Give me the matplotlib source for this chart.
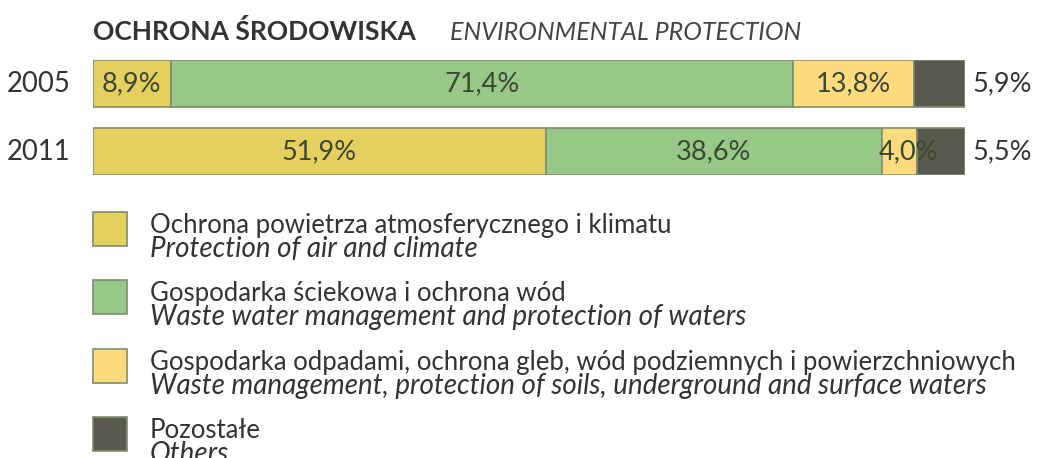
import matplotlib
matplotlib.use("Agg")
import matplotlib.pyplot as plt
from matplotlib.patches import Rectangle

plt.rcParams['font.family'] = ['Lato', 'DejaVu Sans']

years = ["2005", "2011"]
air = [8.9, 51.9]
water = [71.4, 38.6]
waste = [13.8, 4.0]
others = [5.9, 5.5]

series = [air, water, waste, others]
colors = ["#E3D05F", "#98C888", "#FEDC7D", "#595A4E"]
edge = "#7E8E70"
pl_names = ["Ochrona powietrza atmosferycznego i klimatu",
            "Gospodarka ściekowa i ochrona wód",
            "Gospodarka odpadami, ochrona gleb, wód podziemnych i powierzchniowych",
            "Pozostałe"]
en_names = ["Protection of air and climate",
            "Waste water management and protection of waters",
            "Waste management, protection of soils, underground and surface waters",
            "Others"]

W, H = 1037, 458
fig = plt.figure(figsize=(W / 100, H / 100), dpi=100)

def fx(px):
    return px / W

def fy(py):
    return 1 - py / H

# bar axes: pixels x 93..965, y 60..175
ax = fig.add_axes([fx(93), fy(175), fx(965 - 93), (175 - 60) / H])
h = 47 / 68
ypos = list(range(len(years)))
left = [0.0] * len(years)
txtcol = "#3B4733"
fs_bar = 19.5
for si, vals in enumerate(series):
    ax.barh(ypos, vals, left=left, height=h, color=colors[si],
            edgecolor=edge, linewidth=1.2)
    for i, v in enumerate(vals):
        label = f"{v:.1f}%".replace(".", ",")
        if si == 3:
            ax.text(100 + 0.8, ypos[i], label, ha="left", va="center",
                    fontsize=fs_bar, color="#333333", clip_on=False)
        elif v < 6:
            ax.text(left[i] - 0.4, ypos[i], label, ha="left", va="center",
                    fontsize=fs_bar, color=txtcol, clip_on=False)
        else:
            ax.text(left[i] + v / 2, ypos[i], label, ha="center", va="center",
                    fontsize=fs_bar, color=txtcol)
    left = [l + v for l, v in zip(left, vals)]

ax.set_xlim(0, 100)
ax.set_ylim(len(years) - 1 + h / 2, -h / 2)
ax.axis("off")
for i, y in enumerate(years):
    ax.text(-2.6, ypos[i], y, ha="right", va="center", fontsize=19.8,
            color="#333333", clip_on=False)

# title
fig.text(fx(93), fy(40), "OCHRONA ŚRODOWISKA", fontsize=19, fontweight="bold",
         color="#333333", ha="left", va="baseline")
fig.text(fx(450), fy(40), "ENVIRONMENTAL PROTECTION", fontsize=18,
         fontstyle="italic", color="#444444", ha="left", va="baseline")

# legend
for k in range(4):
    top = 212 + k * 68.4
    fig.add_artist(Rectangle((fx(93), fy(top + 34)), fx(34), 34 / H,
                             transform=fig.transFigure, facecolor=colors[k],
                             edgecolor=edge, linewidth=1.2))
    fig.text(fx(150), fy(top + 21), pl_names[k], fontsize=18.5, color="#333333",
             ha="left", va="baseline")
    fig.text(fx(150), fy(top + 45), en_names[k], fontsize=20, fontstyle="italic",
             color="#333333", ha="left", va="baseline")

fig.savefig("out.png", dpi=100)
